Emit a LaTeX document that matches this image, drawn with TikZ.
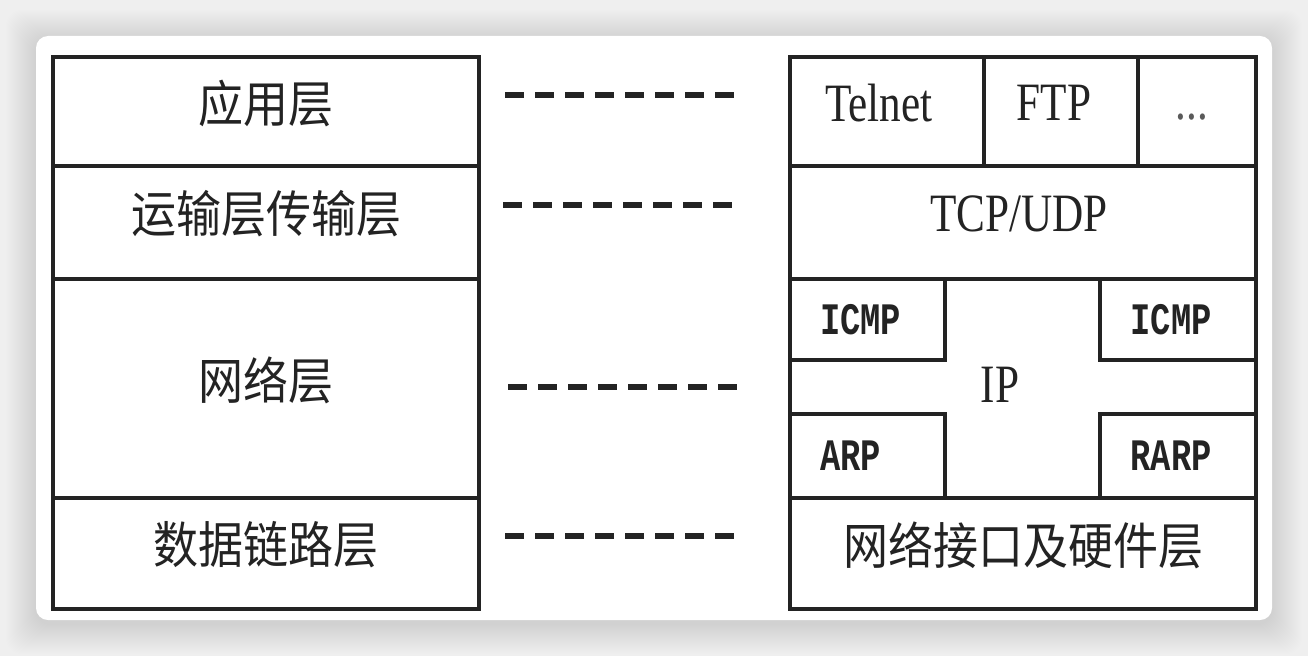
\documentclass[tikz,border=0pt]{standalone}
\usepackage{fontspec}
\usepackage{graphicx}
\usepackage{xcolor}
\setmainfont{Liberation Serif}
\newfontfamily\cjkfont[FakeStretch=0.9]{Noto Sans CJK SC}
\newfontfamily\romfont[FakeStretch=0.8]{Liberation Serif}
\newfontfamily\codefont[FakeStretch=0.75]{Liberation Mono}
\usepackage{tikz}
\usetikzlibrary{calc}
\newlength{\pix}
\setlength{\pix}{0.75pt}
\definecolor{ink}{HTML}{232323}
\definecolor{backdrop}{HTML}{EFEFEF}

\begin{document}
\begin{tikzpicture}[x=0.75pt, y=-0.75pt,
    cell/.style={rectangle, draw=ink, line width=2.6pt, inner sep=0pt, outer sep=0pt, text=ink},
    zh/.style={cell, font=\cjkfont\fontsize{37.5}{40}\selectfont, text depth=16pt},
    en/.style={cell, font=\romfont\fontsize{40.5}{44}\selectfont, text depth=13pt},
    proto/.style={cell, font=\codefont\bfseries\fontsize{33.75}{36}\selectfont, align=left, inner xsep=30\pix, text width=95\pix},
    dashline/.style={draw=ink, line width=4pt, dash pattern=on 19\pix off 11\pix}]
    \useasboundingbox (0,0) rectangle (1308,656);
    % Card and its shadow
    \fill [backdrop] (0,0) rectangle (1308,656);
    \foreach \s in {1,...,30}
        \fill [black, opacity=0.005, rounded corners=12pt] (36-\s,40-\s) rectangle (1272+\s,624+\s);
    \fill [white, rounded corners=9pt] (36,36) rectangle (1272,620);
    % Place nodes: model layers
    \node [zh, minimum width=426\pix, minimum height=109\pix] (app) at (266,111.5) {应用层};
    \node [zh, minimum width=426\pix, minimum height=113\pix] (trans) at (266,222.5) {运输层传输层};
    \node [zh, minimum width=426\pix, minimum height=219\pix] (net) at (266,388.5) {网络层};
    \node [zh, minimum width=426\pix, minimum height=111\pix] (link) at (266,553.5) {数据链路层};
    % Place nodes: protocols
    \node [en, minimum width=194\pix, minimum height=109\pix] (telnet) at (887,111.5) {Telnet\kern16\pix};
    \node [en, minimum width=154\pix, minimum height=109\pix] (ftp) at (1061,111.5) {FTP\kern14\pix};
    \node [en, minimum width=118\pix, minimum height=109\pix, text depth=0pt, text height=12pt, text=ink!75] (more) at (1197,111.5) {...\kern10\pix};
    \node [en, minimum width=466\pix, minimum height=113\pix] (tcp) at (1023,222.5) {TCP/UDP\kern8\pix};
    \node [en, minimum width=466\pix, minimum height=219\pix, text depth=6pt] (ip) at (1023,388.5) {IP\kern46\pix};
    \node [proto, minimum width=155\pix, minimum height=81\pix] (icmpl) at (867.5,319.5) {ICMP};
    \node [proto, minimum width=156\pix, minimum height=81\pix] (icmpr) at (1178,319.5) {ICMP};
    \node [proto, minimum width=155\pix, minimum height=84\pix] (arp) at (867.5,456) {ARP};
    \node [proto, minimum width=156\pix, minimum height=84\pix] (rarp) at (1178,456) {RARP};
    \node [zh, minimum width=466\pix, minimum height=111\pix] (hw) at (1023,553.5) {网络接口及硬件层};
    % Dashed links between the two columns
    \coordinate (appL) at (505,95);    \coordinate (appR) at (735,95);
    \coordinate (transL) at (503,205); \coordinate (transR) at (733,205);
    \coordinate (netL) at (508,387);   \coordinate (netR) at (738,387);
    \coordinate (linkL) at (505,536);  \coordinate (linkR) at (735,536);
    \path [dashline] (appL) -- (appR);
    \path [dashline] (transL) -- (transR);
    \path [dashline] (netL) -- (netR);
    \path [dashline] (linkL) -- (linkR);
\end{tikzpicture}
\end{document}
